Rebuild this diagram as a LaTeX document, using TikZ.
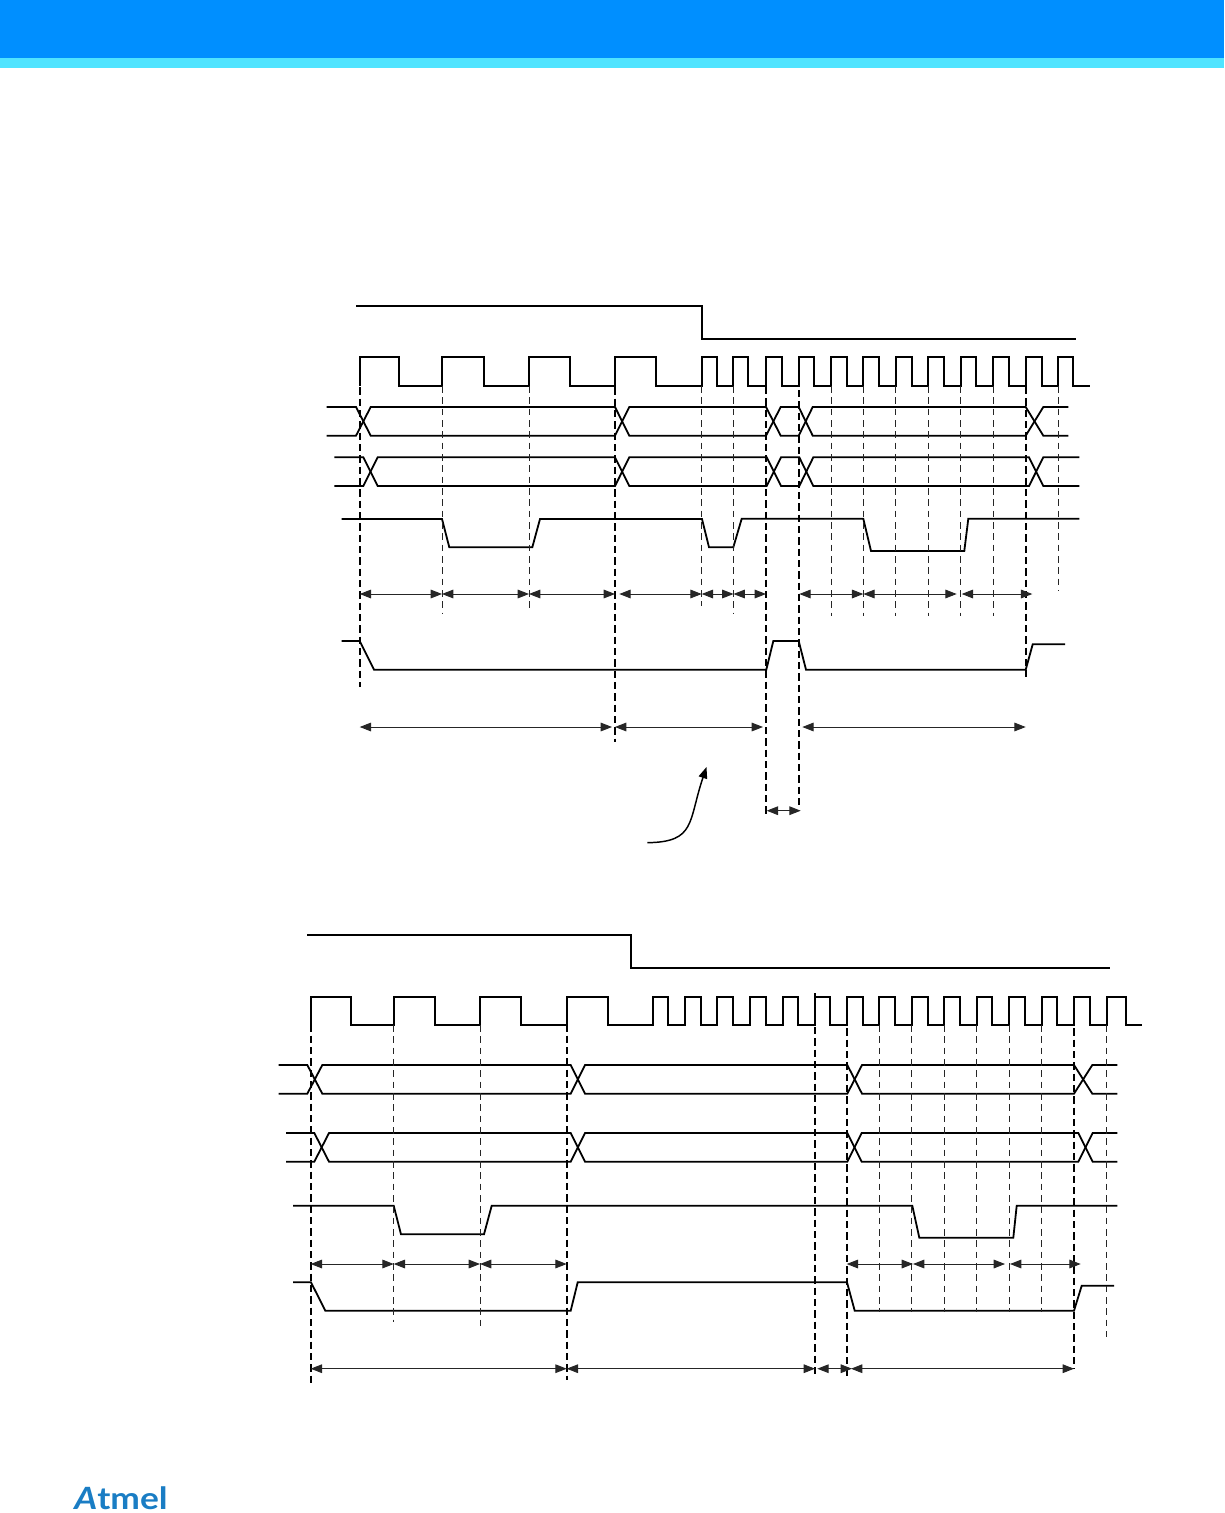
\documentclass[tikz,border=0pt]{standalone}
\usepackage{fontspec}
\setsansfont{Lato}
\usetikzlibrary{arrows.meta}
\definecolor{bannerColor}{HTML}{008FFF}
\definecolor{stripeColor}{HTML}{50E4FF}
\definecolor{logoColor}{HTML}{1A7DC4}
\tikzset{
  wave/.style={line width=1.35pt, line join=miter},
  edgeThick/.style={line width=1.35pt, dash pattern=on 5.5pt off 3pt},
  edgeThin/.style={line width=0.7pt, black!85, dash pattern=on 5pt off 3.5pt},
  span/.style={line width=0.7pt, black!85, {Triangle[length=8.5pt,width=6.5pt]}-{Triangle[length=8.5pt,width=6.5pt]}}
}
% a clock train: first low point, rise/fall pairs, last low point, low and high level
\newcommand{\clocktrain}[5]{%
  \draw[wave] (#1,#4) \foreach \rise/\fall in {#2} { -- (\rise,#4) -- (\rise,#5) -- (\fall,#5) -- (\fall,#4) } -- (#3,#4);
}
\begin{document}
\begin{tikzpicture}[x=0.75pt,y=-0.75pt]
  \useasboundingbox (0,0) rectangle (1224,1513);
  \fill[bannerColor] (0,0) rectangle (1224,58);
  \fill[stripeColor] (0,58) rectangle (1224,68);
  \node[font=\sffamily\bfseries, text=logoColor, inner sep=0pt, xscale=2.65, yscale=2.3] (logo) at (121,1498) {{\itshape A}tmel};

  % upper diagram
  \draw[wave] (356,305.7) -- (702,305.7) -- (702,339) -- (1075.7,339);
  % clock
  \clocktrain{359.7}{359.7/399.3,442/484.3,529/570,615/656,701.7/717.3,733.3/748.3,766/782.3,798.7/814,831/846.7,863.3/879.3,895.7/911.7,928.3/944,960.7/976,993.3/1009.3,1025.7/1041.7,1058/1073.3}{1090}{386}{356.7}
  % data lines
  \draw[wave] (326.7,407) -- (356,407) -- (370.7,435.7) -- (615,435.7) -- (629.3,407) -- (766,407) -- (780.7,435.7) -- (798.7,435.7) -- (812.7,407) -- (1025.7,407) -- (1043.3,435.7) -- (1068.3,435.7);
  \draw[wave] (326.7,435.7) -- (356,435.7) -- (370.7,407) -- (615,407) -- (629.3,435.7) -- (766,435.7) -- (780.7,407) -- (798.7,407) -- (812.7,435.7) -- (1025.7,435.7) -- (1043.3,407) -- (1068.3,407);
  \draw[wave] (334.3,457.3) -- (363.3,457.3) -- (377.7,486) -- (615,486) -- (629.3,457.3) -- (766.7,457.3) -- (781,486) -- (799.3,486) -- (813.3,457.3) -- (1029,457.3) -- (1043.3,486) -- (1079.3,486);
  \draw[wave] (334.3,486) -- (363.3,486) -- (377.7,457.3) -- (615,457.3) -- (629.3,486) -- (766.7,486) -- (781,457.3) -- (799.3,457.3) -- (813.3,486) -- (1029,486) -- (1043.3,457.3) -- (1079.3,457.3);
  % strobes
  \draw[wave] (341.7,519) -- (442,519) -- (449.3,547.3) -- (532.3,547.3) -- (540,519) -- (702,519) -- (709,547.3) -- (733.3,547.3) -- (741.7,518.7) -- (863.3,518.7) -- (871,551) -- (964.3,551) -- (968.3,518.7) -- (1079.3,518.7);
  \draw[wave] (341.7,641) -- (359.7,641) -- (374,669.7) -- (766.3,669.7) -- (773.3,641) -- (798.7,641) -- (806,669.7) -- (1025.7,669.7) -- (1032.7,644.3) -- (1065,644.3);
  % edges
  \foreach \xa/\ya/\yb in {359.7/376/687.3,615/376/742,766/387/815,799/390/807,1026/387/677}
    \draw[edgeThick] (\xa,\ya) -- (\xa,\yb);
  \foreach \xa/\yb in {442/612.7,529/609,701.7/606,733.5/613,831/616,863.3/616,895.7/616,928.3/616,960.7/616,993.3/616,1058/591}
    \draw[edgeThin] (\xa,386) -- (\xa,\yb);
  % spans
  \foreach \xa/\xb in {359.7/442,442/529,529/615,619.3/701.7,701.7/733.5,733.5/766,799.3/863.3,863.3/956.7,961.7/1032.3}
    \draw[span] (\xa,594) -- (\xb,594);
  \foreach \xa/\xb in {359.7/612,615/763,802.3/1025.7}
    \draw[span] (\xa,727) -- (\xb,727);
  \draw[span] (766.7,810.7) -- (800.7,810.7);
  \draw[line width=1.1pt, -{Triangle[length=8.5pt,width=6.5pt]}] (647.3,842.7) .. controls (696,842) and (688,822) .. (706.5,767);

  % lower diagram
  \draw[wave] (307,935) -- (631,935) -- (631,968) -- (1110,968);
  % clock
  \clocktrain{310.7}{310.7/351,393.7/435,480/521,566.7/608.3,653/668.3,685/701,717.3/733.3,750/766,782.7/798.3,815/830,846.7/862.7,879.3/895,911.7/927.7,944.3/960,976.7/992.3,1009/1025,1041.7/1057.3,1074/1090,1106.7/1126}{1141.7}{1025}{997}
  % data lines
  \draw[wave] (278.7,1065) -- (307.3,1065) -- (322.3,1093.7) -- (570.7,1093.7) -- (585,1065) -- (847.3,1065) -- (862,1093.7) -- (1074,1093.7) -- (1092.3,1065) -- (1117.3,1065);
  \draw[wave] (278.7,1093.7) -- (307.3,1093.7) -- (322.3,1065) -- (570.7,1065) -- (585,1093.7) -- (847.3,1093.7) -- (862,1065) -- (1074,1065) -- (1092.3,1093.7) -- (1117.3,1093.7);
  \draw[wave] (286,1133) -- (314.3,1133) -- (329,1161.7) -- (570.7,1161.7) -- (585,1133) -- (847.3,1133) -- (861.7,1161.7) -- (1078.3,1161.7) -- (1092.7,1133) -- (1117.3,1133);
  \draw[wave] (286,1161.7) -- (314.3,1161.7) -- (329,1133) -- (570.7,1133) -- (585,1161.7) -- (847.3,1161.7) -- (861.7,1133) -- (1078.3,1133) -- (1092.7,1161.7) -- (1117.3,1161.7);
  % strobes
  \draw[wave] (293,1205.7) -- (393.7,1205.7) -- (401,1234.3) -- (484,1234.3) -- (491.7,1205.7) -- (912.3,1205.7) -- (919.3,1237.7) -- (1013.3,1237.7) -- (1016.7,1205.7) -- (1117.3,1205.7);
  \draw[wave] (293,1282.3) -- (311,1282.3) -- (325.3,1310.7) -- (570.7,1310.7) -- (577.7,1282.3) -- (847,1282.3) -- (854.7,1310.7) -- (1074,1310.7) -- (1081.7,1285.7) -- (1114,1285.7);
  % edges
  \foreach \xa/\ya/\yb in {310.7/1013/1383,566.7/1013/1380,815/993/1375,846.7/1017/1378,1074/1017/1369}
    \draw[edgeThick] (\xa,\ya) -- (\xa,\yb);
  \foreach \xa/\yb in {393.7/1321.7,480/1329,879.3/1312,911.7/1312,944.3/1312,976.7/1312,1009/1312,1041.7/1312,1106.7/1337}
    \draw[edgeThin] (\xa,1025) -- (\xa,\yb);
  % spans
  \foreach \xa/\xb in {310.7/393.7,393.7/480,480/566.7,846.7/913,913/1005,1010/1080.7}
    \draw[span] (\xa,1264) -- (\xb,1264);
  \foreach \xa/\xb in {310.7/566.7,566.7/815,817.3/852,851/1074}
    \draw[span] (\xa,1368.7) -- (\xb,1368.7);
\end{tikzpicture}
\end{document}
